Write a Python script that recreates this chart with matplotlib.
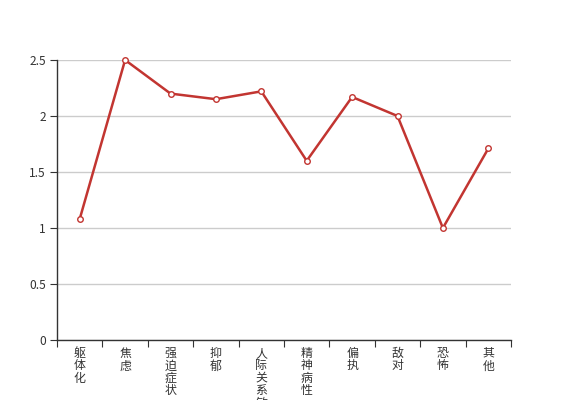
import matplotlib.pyplot as plt

plt.rcParams['font.family'] = ['Noto Sans CJK SC', 'DejaVu Sans']

categories = ['躯体化', '焦虑', '强迫症状', '抑郁', '人际关系敏感',
              '精神病性', '偏执', '敌对', '恐怖', '其他']
values = [1.08, 2.5, 2.2, 2.15, 2.22, 1.6, 2.17, 2.0, 1.0, 1.71]
y_ticks = [0, 0.5, 1, 1.5, 2, 2.5]
y_labels = ['0', '0.5', '1', '1.5', '2', '2.5']

fig = plt.figure(figsize=(5.67, 4), dpi=100)
ax = fig.add_axes([57 / 567, 60 / 400, 454 / 567, 280 / 400])

x = list(range(len(categories)))
ax.plot(x, values, color='#c23531', lw=1.8, marker='o', markersize=4,
        markerfacecolor='white', markeredgecolor='#c23531', markeredgewidth=1,
        zorder=3, clip_on=False)

ax.set_xlim(-0.5, len(categories) - 0.5)
ax.set_ylim(0, 2.5)

# category boundaries carry the tick marks, centres carry the labels
ax.set_xticks([i - 0.5 for i in range(len(categories) + 1)])
ax.set_xticklabels([])
ax.set_xticks(x, minor=True)
ax.set_xticklabels(['\n'.join(c) for c in categories], minor=True,
                   fontsize=8.6, color='#333333', va='top', linespacing=0.95)
ax.tick_params(axis='x', which='major', length=5, color='#333333')
ax.tick_params(axis='x', which='minor', length=0, pad=5)

ax.set_yticks(y_ticks)
ax.set_yticklabels(y_labels, fontsize=8.6, color='#333333')
ax.tick_params(axis='y', length=5, color='#333333', pad=3)
ax.yaxis.grid(True, color='#cccccc', lw=1)
ax.set_axisbelow(True)

for side in ['top', 'right']:
    ax.spines[side].set_visible(False)
for side in ['left', 'bottom']:
    ax.spines[side].set_color('#333333')
    ax.spines[side].set_linewidth(1)

fig.savefig('out.png', dpi=100)
